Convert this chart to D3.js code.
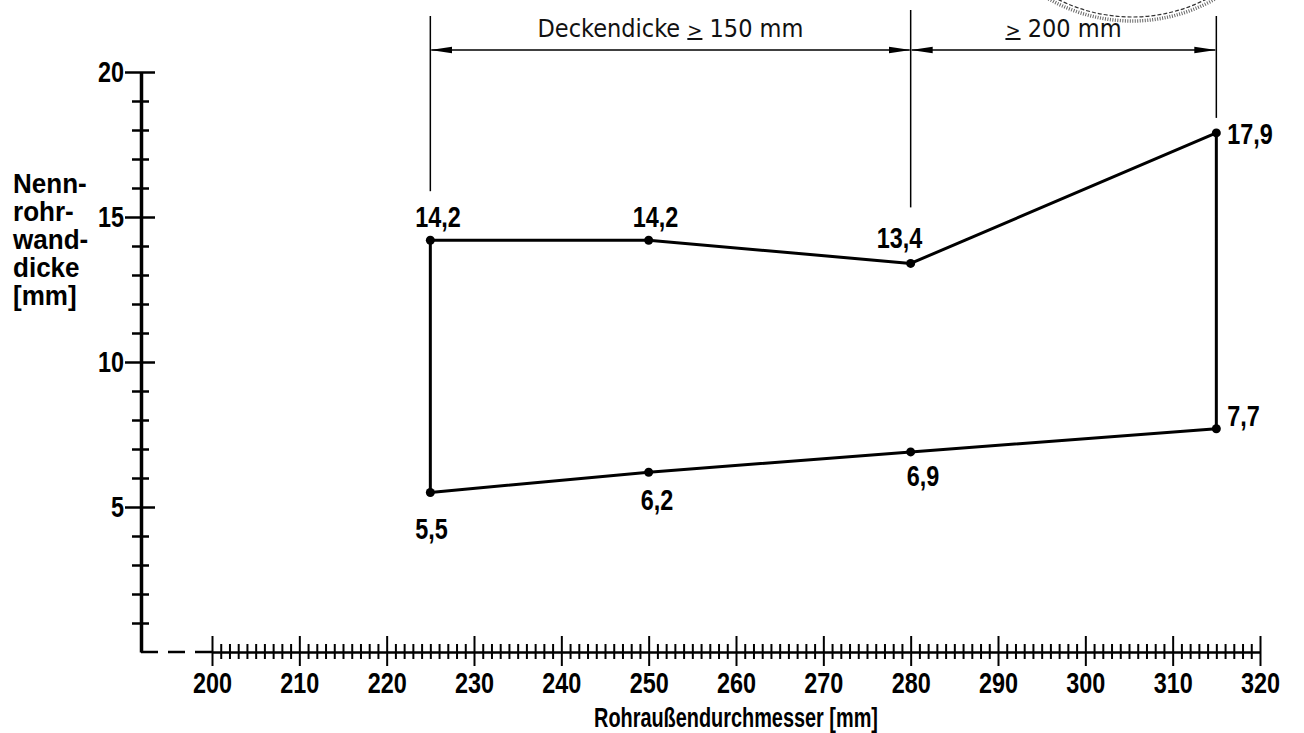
<!DOCTYPE html>
<html>
<head>
<meta charset="utf-8">
<script src="https://cdn.jsdelivr.net/npm/d3@7"></script>
<style>
  html, body { margin: 0; padding: 0; background: #fff; }
  svg { display: block; }
</style>
</head>
<body>
<svg id="chart" width="1304" height="733"></svg>
<script>
// Chart values
const diameters = [225, 250, 280, 315];
const upperWall = [14.2, 14.2, 13.4, 17.9];
const lowerWall = [5.5, 6.2, 6.9, 7.7];

// Ceiling thickness ranges (dimension lines on top)
const dimBounds = [225, 280, 315];
const dimLabels = [["Deckendicke ", ">", " 150 mm"], ["", ">", " 200 mm"]];

// Axis ticks
const xMajorTicks = d3.range(200, 321, 10);
const xMinorTicks = d3.range(200, 321, 1).filter(d => d % 10 !== 0);
const yMajorTicks = [5, 10, 15, 20];
const yMinorTicks = d3.range(1, 20).filter(d => d % 5 !== 0);

const xTitle = "Rohraußendurchmesser [mm]";
const yTitle = ["Nenn-", "rohr-", "wand-", "dicke", "[mm]"];

// label placement relative to the point [dx, dy]
const upperLabelOffset = [[-15, -13], [-16, -13], [-34, -15], [11, 11]];
const lowerLabelOffset = [[-15, 46], [-8, 38], [-4, 34], [11, -3]];
// how far above the upper point the extension lines stop
const extGap = [49, 0, 56, 15];

const numFont = "'Liberation Sans', Arial, sans-serif";
const thinFont = "'DejaVu Sans Condensed', 'DejaVu Sans', sans-serif";

// squeeze a text horizontally, like a narrow drawing font
function narrow(sel, k) {
  sel.each(function() {
    const len = this.getComputedTextLength();
    d3.select(this).attr("textLength", len * k).attr("lengthAdjust", "spacingAndGlyphs");
  });
}

const svg = d3.select("#chart");
const x = d3.scaleLinear().domain([200, 320]).range([212, 1260]);
const y = d3.scaleLinear().domain([0, 20]).range([652, 72]);
const fmt = d3.formatLocale({decimal: ",", thousands: ".", grouping: [3], currency: ["", "€"]}).format(".1f");

// --- x axis ---
const xAxisG = svg.append("g").attr("transform", `translate(0,${y(0)})`);
xAxisG.call(d3.axisBottom(x).tickValues(xMajorTicks).tickSize(14).tickSizeOuter(0).tickPadding(6).tickFormat(d3.format("d")));
xAxisG.select(".domain").attr("stroke-width", 2.5);
xAxisG.selectAll(".tick line").attr("y1", -16).attr("stroke-width", 2);
xAxisG.selectAll(".tick text")
  .attr("font-family", numFont).attr("font-size", 30).attr("font-weight", "bold")
  .attr("dy", "0.71em").attr("y", 20)
  .call(narrow, 0.78);

const xMinorG = svg.append("g").attr("transform", `translate(0,${y(0)})`);
xMinorG.call(d3.axisBottom(x).tickValues(xMinorTicks).tickSize(7).tickFormat(""));
xMinorG.select(".domain").remove();
xMinorG.selectAll(".tick line").attr("y1", -8).attr("stroke-width", 2);

// dashed piece between y axis and 200
svg.append("line")
  .attr("x1", 141).attr("x2", x(200)).attr("y1", y(0)).attr("y2", y(0))
  .attr("stroke", "#000").attr("stroke-width", 2.5).attr("stroke-dasharray", "17,10");

// --- y axis ---
const yAxisG = svg.append("g").attr("transform", "translate(141,0)");
yAxisG.call(d3.axisLeft(y).tickValues(yMajorTicks).tickSize(16).tickSizeOuter(0).tickPadding(1));
yAxisG.select(".domain").attr("stroke-width", 3.5);
yAxisG.selectAll(".tick line").attr("x1", 14).attr("stroke-width", 2.5);
yAxisG.selectAll(".tick text")
  .attr("font-family", numFont).attr("font-size", 30).attr("font-weight", "bold")
  .call(narrow, 0.78);

const yMinorG = svg.append("g").attr("transform", "translate(141,0)");
yMinorG.call(d3.axisLeft(y).tickValues(yMinorTicks).tickSize(9).tickFormat(""));
yMinorG.select(".domain").remove();
yMinorG.selectAll(".tick line").attr("x1", 8).attr("stroke-width", 2.5);

// axis titles
svg.append("text")
  .attr("x", (x(200) + x(320)) / 2).attr("y", 727)
  .attr("text-anchor", "middle")
  .attr("font-family", numFont).attr("font-size", 28).attr("font-weight", "bold")
  .text(xTitle)
  .call(narrow, 0.71);

svg.append("g").selectAll("text").data(yTitle).join("text")
  .attr("x", 13).attr("y", (d, i) => 193 + i * 28)
  .attr("font-family", numFont).attr("font-size", 28).attr("font-weight", "bold")
  .text(d => d)
  .call(narrow, 0.93);

// --- dimension lines on top ---
const defs = svg.append("defs");
defs.append("marker")
  .attr("id", "arrow").attr("viewBox", "0 -4 22 8")
  .attr("refX", 21).attr("refY", 0)
  .attr("markerWidth", 22).attr("markerHeight", 8)
  .attr("markerUnits", "userSpaceOnUse")
  .attr("orient", "auto-start-reverse")
  .append("path").attr("d", "M0,-3.2L22,0L0,3.2Z").attr("fill", "#000");

const dimY = 50;
svg.append("g").selectAll("line").data(dimBounds).join("line")
  .attr("x1", d => x(d)).attr("x2", d => x(d))
  .attr("y1", (d, i) => i === 1 ? 10 : 16)
  .attr("y2", d => y(upperWall[diameters.indexOf(d)]) - extGap[diameters.indexOf(d)])
  .attr("stroke", "#000").attr("stroke-width", 1.5);

const segs = d3.pairs(dimBounds);
svg.append("g").selectAll("line").data(segs).join("line")
  .attr("x1", d => x(d[0]) + 1).attr("x2", d => x(d[1]) - 1)
  .attr("y1", dimY).attr("y2", dimY)
  .attr("stroke", "#000").attr("stroke-width", 1.6)
  .attr("marker-start", "url(#arrow)").attr("marker-end", "url(#arrow)");

const dimText = svg.append("g").selectAll("text").data(segs).join("text")
  .attr("x", d => (x(d[0]) + x(d[1])) / 2).attr("y", 37)
  .attr("text-anchor", "middle")
  .attr("font-family", thinFont).attr("font-size", 25).attr("fill", "#111");
dimText.each(function(d, i) {
  const t = d3.select(this);
  t.append("tspan").text(dimLabels[i][0]);
  t.append("tspan").attr("text-decoration", "underline").attr("font-size", 20).text(dimLabels[i][1]);
  t.append("tspan").text(dimLabels[i][2]);
});

// --- stamp remnant top right ---
svg.append("circle").attr("cx", 1132).attr("cy", -147).attr("r", 164)
  .attr("fill", "none").attr("stroke", "#333").attr("stroke-width", 1.2).attr("stroke-dasharray", "4,2");
svg.append("circle").attr("cx", 1132).attr("cy", -147).attr("r", 168)
  .attr("fill", "none").attr("stroke", "#666").attr("stroke-width", 3.5).attr("stroke-dasharray", "1,1.5");

// --- outline polygon ---
const pts = diameters.map((d, i) => [d, upperWall[i]])
  .concat(diameters.map((d, i) => [d, lowerWall[i]]).reverse());
svg.append("path")
  .attr("d", d3.line().x(d => x(d[0])).y(d => y(d[1]))(pts) + "Z")
  .attr("fill", "none").attr("stroke", "#000").attr("stroke-width", 3)
  .attr("stroke-linejoin", "round");

svg.append("g").selectAll("circle").data(pts).join("circle")
  .attr("cx", d => x(d[0])).attr("cy", d => y(d[1])).attr("r", 4.5).attr("fill", "#000");

// value labels
const labels = diameters.map((d, i) => ({d, v: upperWall[i], o: upperLabelOffset[i]}))
  .concat(diameters.map((d, i) => ({d, v: lowerWall[i], o: lowerLabelOffset[i]})));
svg.append("g").selectAll("text").data(labels).join("text")
  .attr("x", l => x(l.d) + l.o[0]).attr("y", l => y(l.v) + l.o[1])
  .attr("font-family", numFont).attr("font-size", 30).attr("font-weight", "bold")
  .text(l => fmt(l.v))
  .call(narrow, 0.78);
</script>
</body>
</html>
